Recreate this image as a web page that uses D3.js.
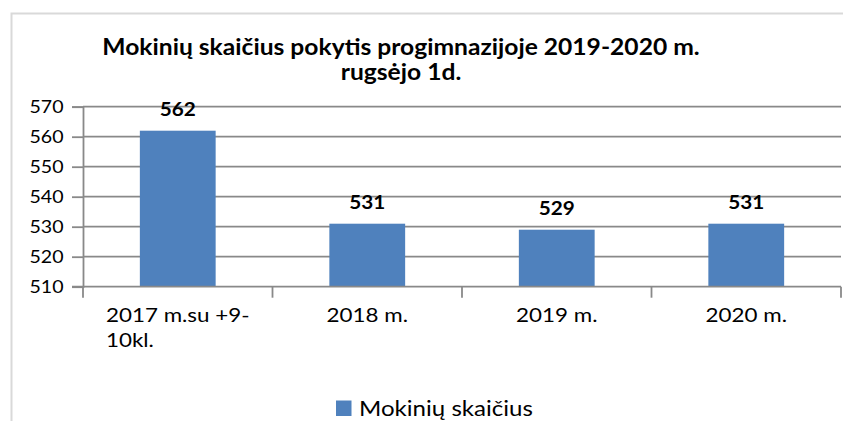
<!DOCTYPE html>
<html>
<head>
<meta charset="utf-8">
<script src="https://cdn.jsdelivr.net/npm/d3@7"></script>
<style>
  body { margin: 0; background: #fff; }
  svg { display: block; font-family: Lato, "Open Sans", sans-serif; }
</style>
</head>
<body>
<svg id="chart" width="843" height="421"></svg>
<script>
// chart data
const categories = [["2017 m.su +9-", "10kl."], ["2018 m."], ["2019 m."], ["2020 m."]];
const values = [562, 531, 529, 531];
const yTicks = [510, 520, 530, 540, 550, 560, 570];
const titleLines = ["Mokinių skaičius pokytis progimnazijoje 2019-2020 m.", "rugsėjo 1d."];
const seriesName = "Mokinių skaičius";

const width = 843;
const height = 421;
const plotLeft = 83, plotRight = 841, plotTop = 106.7, plotBottom = 286.7;
const barColor = "#4f81bd";
const gridColor = "#898989";
const stretch = 1.12; // text in the picture is a bit wider than Lato

const svg = d3.select("#chart");

// places a text with its anchor at (x, y), widened a bit
function label(g, x, y, txt, size, opts = {}) {
    return g.append("text")
        .attr("transform", `translate(${x},${y}) scale(${stretch},1)`)
        .attr("text-anchor", opts.anchor || "start")
        .style("font-size", size + "px")
        .style("font-weight", opts.bold ? "bold" : "normal")
        .attr("fill", "#000")
        .text(txt);
}

// chart frame
svg.append("path")
    .attr("d", `M11.5,${height} V13.5 H${width}`)
    .attr("fill", "none")
    .attr("stroke", "#d9d9d9")
    .attr("stroke-width", 2);

const x = d3.scaleBand()
    .domain(d3.range(categories.length))
    .range([plotLeft, plotRight])
    .paddingInner(0.6)
    .paddingOuter(0.3);

const y = d3.scaleLinear().domain([510, 570]).range([plotBottom, plotTop]);

// gridlines
svg.append("g")
    .selectAll("line")
    .data(yTicks.slice(1))
    .join("line")
    .attr("x1", plotLeft)
    .attr("x2", plotRight)
    .attr("y1", d => y(d))
    .attr("y2", d => y(d))
    .attr("stroke", gridColor)
    .attr("stroke-width", 1.8);

// bars
svg.append("g")
    .selectAll("rect")
    .data(values)
    .join("rect")
    .attr("x", (d, i) => x(i))
    .attr("y", d => y(d))
    .attr("width", x.bandwidth())
    .attr("height", d => y(510) - y(d))
    .attr("fill", barColor);

// y axis
const yAxis = svg.append("g")
    .attr("transform", `translate(${plotLeft},0)`)
    .call(d3.axisLeft(y).tickValues(yTicks).tickSize(11).tickFormat(""));
yAxis.select(".domain").attr("stroke", gridColor).attr("stroke-width", 1.8);
yAxis.selectAll(".tick line").attr("stroke", gridColor).attr("stroke-width", 1.8);
const yLabels = svg.append("g");
yTicks.forEach(v => label(yLabels, 63.5, y(v) + 6.3, d3.format("d")(v), 17.5, { anchor: "end" }));

// x axis with ticks between categories
const step = x.step();
const boundaries = d3.range(categories.length + 1).map(i => plotLeft + i * step);
const xAxis = svg.append("g");
xAxis.append("line")
    .attr("x1", plotLeft - 11)
    .attr("x2", plotRight)
    .attr("y1", plotBottom)
    .attr("y2", plotBottom)
    .attr("stroke", gridColor)
    .attr("stroke-width", 1.8);
xAxis.selectAll(".xtick")
    .data(boundaries)
    .join("line")
    .attr("class", "xtick")
    .attr("x1", d => d)
    .attr("x2", d => d)
    .attr("y1", plotBottom)
    .attr("y2", plotBottom + 11)
    .attr("stroke", gridColor)
    .attr("stroke-width", 1.8);

// category labels
const xLabels = svg.append("g");
categories.forEach((lines, i) => {
    const cx = x(i) + x.bandwidth() / 2;
    const t = label(xLabels, cx, 322.3, lines[0], 20, { anchor: "middle" });
    if (lines.length > 1) {
        // wrapped label, second line starts where the first starts
        const w = t.node().getComputedTextLength() * stretch;
        label(xLabels, cx - w / 2, 346.7, lines[1], 20);
    }
});

// data labels
const dataLabels = svg.append("g");
values.forEach((v, i) => {
    label(dataLabels, x(i) + x.bandwidth() / 2, y(v) - 14.3, v, 18.5, { anchor: "middle", bold: true });
});

// title
const titleG = svg.append("g");
titleLines.forEach((t, i) => label(titleG, 401, 55 + i * 25, t, 22, { anchor: "middle", bold: true }));

// legend
svg.append("rect")
    .attr("x", 336)
    .attr("y", 400.5)
    .attr("width", 15.5)
    .attr("height", 15.5)
    .attr("fill", barColor);
label(svg, 359, 415.5, seriesName, 21.5);
</script>
</body>
</html>
